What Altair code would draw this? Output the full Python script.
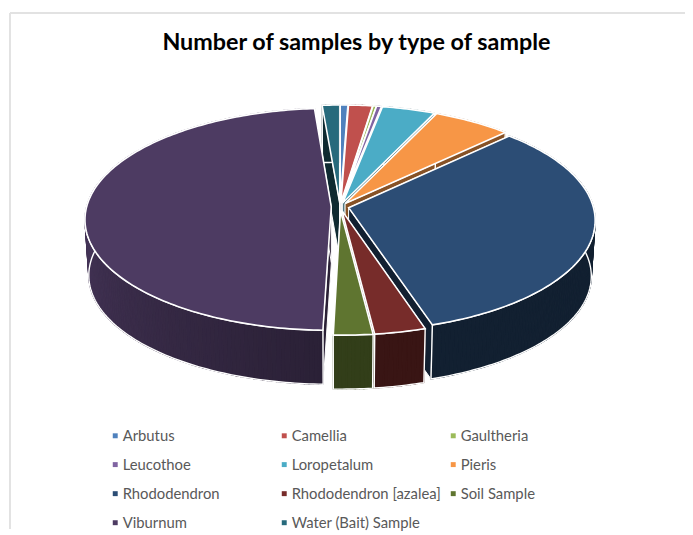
import math
import altair as alt

categories = ["Arbutus", "Camellia", "Gaultheria", "Leucothoe", "Loropetalum", "Pieris",
              "Rhododendron", "Rhododendron [azalea]", "Soil Sample", "Viburnum", "Water (Bait) Sample"]
shares = [0.56, 1.75, 0.25, 0.36, 3.9, 5.75, 32.55, 3.0, 2.3, 48.3, 1.28]
top_colors = ["#4f81bd", "#c0504d", "#9bbb59", "#8064a2", "#4bacc6", "#f79646",
              "#2c4d75", "#772c2a", "#5f7530", "#4d3b62", "#276a7c"]
draw_order = [10, 0, 1, 2, 3, 4, 5, 6, 9, 7, 8]
title_text = "Number of samples by type of sample"

# projection of the tilted disc (page offset 8px removed)
CX, CY = 344 - 8, 206 - 8
R, S, K = 247.5, 110.9, 0.1118
EXPLODE = 0.036
DEPTH, SHRINK = 56.5, 0.985


def proj(u, v, low=False):
    den = 1 - K * v
    if low:
        return [CX + SHRINK * R * u / den, CY + DEPTH + SHRINK * S * v / den]
    return [CX + R * u / den, CY + S * v / den]


def shade(hex_color, factor):
    rgb = [int(hex_color[i:i + 2], 16) for i in (1, 3, 5)]
    return "#" + "".join(f"{min(255, int(c * factor)):02x}" for c in rgb)


def feature(ring, fill, stroke, width, name=""):
    ring = ring + [ring[0]]
    return {"type": "Feature", "geometry": {"type": "Polygon", "coordinates": [ring]},
            "properties": {"fill": fill, "stroke": stroke, "sw": width, "name": name}}


bounds = [0.0]
for s in shares:
    bounds.append(bounds[-1] + s * 360 / sum(shares))

groups = []
for idx in draw_order:
    t0, t1 = bounds[idx], bounds[idx + 1]
    mid = math.radians((t0 + t1) / 2)
    ou, ov = EXPLODE * math.sin(mid), -EXPLODE * math.cos(mid)
    color = top_colors[idx]
    n = max(2, int(t1 - t0) + 1)
    ts = [math.radians(t0 + (t1 - t0) * i / n) for i in range(n + 1)]

    def pt(t, low=False):
        return proj(ou + math.sin(t), ov - math.cos(t), low)

    if idx == 9:
        def factor(deg):
            return 0.55 + 0.35 * min(1, max(0, (deg - 180) / 90))
    else:
        base = {6: 0.42, 7: 0.48, 8: 0.53, 5: 0.55, 10: 0.4}.get(idx, 0.5)

        def factor(deg, base=base):
            return base

    group = []
    # radial faces seen in the gaps
    for t, deg in ((ts[0], t0), (ts[-1], t1)):
        c = shade(color, factor(deg) if idx != 9 else 0.55)
        group.append(feature([proj(ou, ov), pt(t), pt(t, True), proj(ou, ov, True)], c, "white", 1.0))
    # outer wall as thin strips so its shade can change round the rim
    for a, b in zip(ts[:-1], ts[1:]):
        c = shade(color, factor(math.degrees((a + b) / 2)))
        group.append(feature([pt(a), pt(b), pt(b, True), pt(a, True)], c, c, 1.2))
    outline = [pt(t) for t in ts] + [pt(t, True) for t in reversed(ts)]
    group.append(feature(outline, "transparent", "white", 1.4))
    ring = [proj(ou, ov)] + [pt(t) for t in ts]
    group.append(feature(ring, color, "white", 1.6, categories[idx]))
    groups.append(group)

features = [f for g in groups for f in g]

shapes = alt.Chart(alt.InlineData(values={"type": "FeatureCollection", "features": features},
                                  format=alt.DataFormat(type="json", property="features"))).mark_geoshape().encode(
    fill=alt.Fill("properties.fill:N", scale=None),
    stroke=alt.Stroke("properties.stroke:N", scale=None),
    strokeWidth=alt.StrokeWidth("properties.sw:Q", scale=None),
).project(type="identity", scale=1, translate=[0, 0])

legend_data = [{"name": c} for c in categories]
legend_layer = alt.Chart(alt.Data(values=legend_data)).mark_point(filled=True, opacity=0, size=1).encode(
    x=alt.value(-50), y=alt.value(-50),
    color=alt.Color("name:N", sort=categories,
                    scale=alt.Scale(domain=categories, range=top_colors),
                    legend=alt.Legend(title=None, orient="none", legendX=101, legendY=422, columns=3,
                                      direction="horizontal",
                                      symbolType="square", symbolSize=25, symbolOpacity=1, symbolStrokeWidth=0,
                                      labelFont="Lato", labelFontSize=15, labelColor="#595959",
                                      labelOffset=0, rowPadding=13.4, columnPadding=5, gridAlign="all",
                                      labelLimit=200)),
)

one = alt.Data(values=[{"a": 1}])
border = alt.Chart(one).mark_rule(color="#e2e2e2", strokeWidth=2).encode(
    x=alt.value(2), x2=alt.value(685), y=alt.value(2))
border2 = alt.Chart(one).mark_rule(color="#e2e2e2", strokeWidth=2).encode(
    x=alt.value(2), y=alt.value(2), y2=alt.value(524))
title = alt.Chart(one).mark_text(text=title_text, font="Lato", fontSize=23.6, fontWeight="bold", color="black",
                                 align="center", baseline="alphabetic").encode(x=alt.value(352.5), y=alt.value(39.5))

chart = alt.layer(border, border2, title, shapes, legend_layer).resolve_scale(color="independent").properties(
    width=685, height=524, padding=0, autosize=alt.AutoSizeParams(type="none"),
).configure_view(stroke=None)

chart.save("out.html", embed_options={"renderer": "svg", "actions": False})
